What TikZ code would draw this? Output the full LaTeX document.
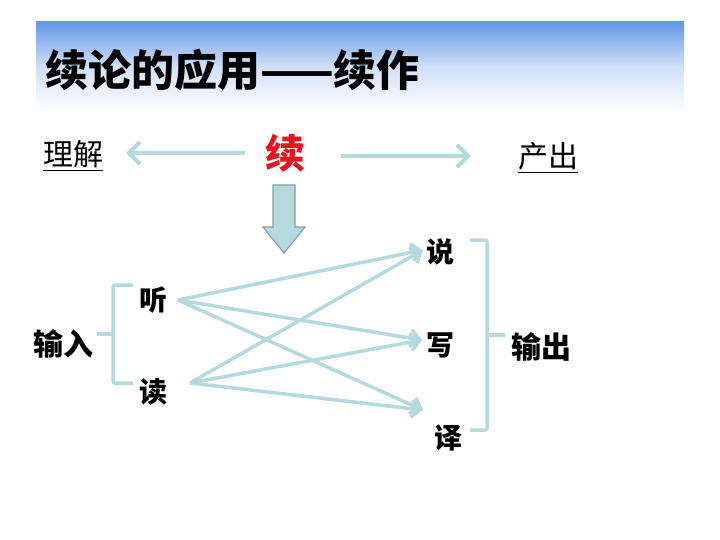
\documentclass[tikz,border=0pt]{standalone}
\usepackage{fontspec}
\setmainfont{Noto Sans CJK SC}
\usepackage{tikz}
\usetikzlibrary{arrows.meta}
\definecolor{linkblue}{RGB}{180,218,222}
\definecolor{bandblue}{RGB}{100,152,232}
\definecolor{edgegray}{RGB}{135,160,165}
\definecolor{xured}{RGB}{232,20,30}

\begin{document}
\begin{tikzpicture}[x=1pt, y=-1pt,
    word/.style = {inner sep=0pt, font=\fontsize{28}{28}\selectfont\bfseries},
    side/.style = {inner sep=0pt, anchor=base, font=\fontsize{30}{30}\selectfont},
    link/.style = {linkblue, line width=3.5pt, -{Straight Barb[length=9pt,width=17pt]}},
    wide/.style = {linkblue, line width=4pt, -{Straight Barb[length=11pt,width=22pt]}},
    brace/.style = {linkblue, line width=3.5pt, rounded corners=2pt}]
    \useasboundingbox (0,0) rectangle (720,540);
    \shade[top color=bandblue, bottom color=white, middle color=bandblue!30] (36,22) rectangle (684,112);
    \node[anchor=west, inner sep=0pt, font=\fontsize{43}{43}\selectfont\bfseries] (title) at (45,70) {续论的应用——续作};
    \node[side] (lijie) at (73,166) {\underline{理解}};
    \node[side] (chanchu) at (548,168) {\underline{产出}};
    \node[inner sep=0pt, text=xured, font=\fontsize{40}{40}\selectfont\bfseries] (xu) at (285,153) {续};
    \draw[wide, shorten <=20pt, shorten >=23pt] (xu) -- (xu -| lijie.east);
    \draw[wide, shorten <=36pt, shorten >=47pt] ([yshift=-3]xu.east) -- ([yshift=-3]xu.east -| chanchu.west);
    \draw[edgegray, fill=linkblue, line width=1.2pt] (273,185) -- (295,185) -- (295,227) -- (305,227)
        -- (284,253) -- (263,227) -- (273,227) -- cycle;
    \node[word] (ting) at (153,300) {听};
    \node[word] (du) at (153,392) {读};
    \node[word] (shuo) at (440,252) {说};
    \node[word] (xie) at (440,345) {写};
    \node[word] (yi) at (448,438) {译};
    \node[word, font=\fontsize{30}{30}\selectfont\bfseries] (shuru) at (63,344) {输入};
    \node[word, font=\fontsize{30}{30}\selectfont\bfseries] (shuchu) at (541,347) {输出};
    \coordinate (tingout) at ([xshift=25]ting.center);
    \coordinate (duout) at ([shift={(37,-9)}]du.center);
    \coordinate (shuoin) at ([shift={(-17,-2)}]shuo.center);
    \coordinate (xiein) at ([shift={(-18,-5)}]xie.center);
    \coordinate (yiin) at ([shift={(-25,-28)}]yi.center);
    \draw[link] (tingout) -- (shuoin);
    \draw[link] (tingout) -- (xiein);
    \draw[link] (tingout) -- (yiin);
    \draw[link] (duout) -- (shuoin);
    \draw[link] (duout) -- (xiein);
    \draw[link] (duout) -- (yiin);
    \draw[brace] (133,285) -- (113,285) -- (113,383) -- (133,383);
    \draw[brace] (113,334) -- (97,334);
    \draw[brace] (470,240) -- (487,240) -- (487,430) -- (470,430);
    \draw[brace] (487,335) -- (505,335);
\end{tikzpicture}
\end{document}
